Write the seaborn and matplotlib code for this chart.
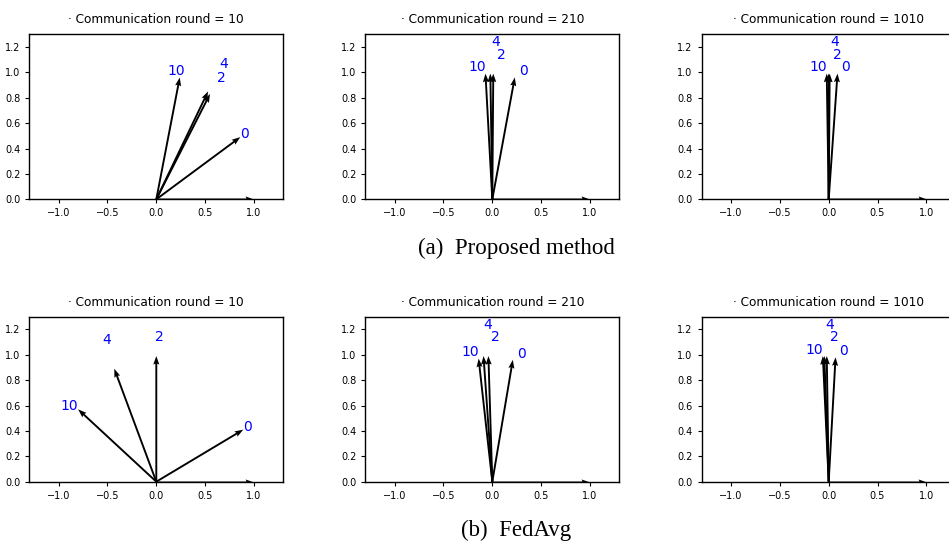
import matplotlib
matplotlib.use('Agg')
import matplotlib.pyplot as plt
import seaborn as sns
import numpy as np
import pandas as pd

# Data (arrow components per client)
rounds = [10, 210, 1010]
clients = ['0', '2', '4', '10']

proposed_u = [[0.86, 0.55, 0.53, 0.24], [0.23, 0.01, -0.02, -0.07], [0.09, 0.01, 0.00, -0.02]]
proposed_v = [[0.49, 0.83, 0.85, 0.96], [0.96, 0.99, 0.99, 0.99], [0.99, 0.99, 0.99, 0.99]]

fedavg_u = [[0.89, 0.00, -0.43, -0.80], [0.21, -0.04, -0.09, -0.14], [0.07, -0.02, -0.045, -0.06]]
fedavg_v = [[0.41, 0.99, 0.89, 0.57], [0.96, 0.99, 0.99, 0.97], [0.98, 0.99, 0.99, 0.99]]

reference_u = [1.0]
reference_v = [0.0]

captions = ['(a)  Proposed method', '(b)  FedAvg']

sns.set_style("ticks")
plt.rcParams.update({
    'font.family': ['DejaVu Sans'],
    'text.color': 'black',
    'xtick.color': 'black',
    'ytick.color': 'black',
    'xtick.labelsize': 7,
    'ytick.labelsize': 7,
    'xtick.major.size': 3,
    'ytick.major.size': 3,
    'axes.edgecolor': 'black',
    'axes.linewidth': 1.0,
})

# label distance from the origin (multiple of the vector) and small sideways nudges (px)
label_radius = {'0': 1.05, '2': 1.15, '4': 1.25, '10': 1.05}
nudge_first = {'0': 0, '2': 3, '4': 3, '10': -5}
nudge_other = {'0': 8, '2': 8, '4': 6, '10': -8}

W, H = 949, 547
fig = plt.figure(figsize=(W / 100, H / 100), dpi=100)

col_left = [29.3, 365.3, 701.7]
row_top = [34.3, 316.7]
ax_w, ax_h = 254, 165
caption_y = [248, 530]


def draw_panel(ax, u, v, rnd, nudge):
    df = pd.DataFrame({'client': clients, 'u': u, 'v': v})
    arrow_kw = dict(angles='xy', scale_units='xy', scale=1, width=0.0075,
                    headwidth=3.2, headlength=4.5, headaxislength=4, color='black')
    ax.quiver(np.zeros(len(df)), np.zeros(len(df)), df['u'], df['v'], **arrow_kw)
    ax.quiver([0], [0], reference_u, reference_v, **arrow_kw)
    for _, row in df.iterrows():
        r = label_radius[row['client']]
        ax.annotate(row['client'], (row['u'] * r, row['v'] * r),
                    xytext=(nudge[row['client']] * 0.72, 0), textcoords='offset points',
                    color='blue', fontsize=10, ha='center', va='center')
    ax.set_xlim(-1.3, 1.3)
    ax.set_ylim(0, 1.3)
    ax.set_xticks([-1.0, -0.5, 0.0, 0.5, 1.0])
    ax.set_yticks([0.0, 0.2, 0.4, 0.6, 0.8, 1.0, 1.2])
    ax.set_title(f'· Communication round = {rnd}', fontsize=8.7, pad=8)


for r, (us, vs) in enumerate([(proposed_u, proposed_v), (fedavg_u, fedavg_v)]):
    for c in range(3):
        ax = fig.add_axes([col_left[c] / W, 1 - (row_top[r] + ax_h) / H, ax_w / W, ax_h / H])
        draw_panel(ax, us[c], vs[c], rounds[c], nudge_first if c == 0 else nudge_other)
    fig.text(516 / W, 1 - caption_y[r] / H, captions[r], family='Liberation Serif',
             fontsize=16.5, ha='center', va='center')

fig.savefig('out.png', dpi=100)
